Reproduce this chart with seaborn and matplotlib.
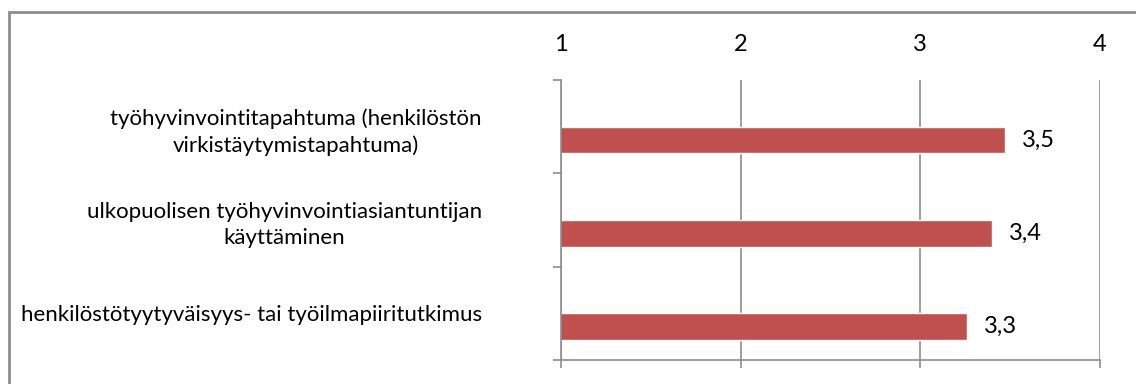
import matplotlib
matplotlib.use("Agg")
import matplotlib.pyplot as plt
from matplotlib.patches import Rectangle
import pandas as pd
import seaborn as sns

# Survey items (wrapped as they appear on the axis) and their mean scores
categories = [
    "työhyvinvointitapahtuma (henkilöstön\nvirkistäytymistapahtuma)",
    "ulkopuolisen työhyvinvointiasiantuntijan\nkäyttäminen",
    "henkilöstötyytyväisyys- tai työilmapiiritutkimus",
]
scores = [3.47, 3.40, 3.26]
x_ticks = [1, 2, 3, 4]

BAR_COLOR = "#C0504D"
GRID_COLOR = "#8C8C8C"
LABEL_SIZE = 16
NUMBER_SIZE = 17

sns.set_theme(style="white")
plt.rcParams["font.family"] = ["Lato", "DejaVu Sans"]

df = pd.DataFrame({"item": categories, "score": scores, "series": "keskiarvo"})

fig = plt.figure(figsize=(11.36, 3.84), dpi=100)
ax = fig.add_axes([561 / 1136, 1 - 360 / 384, (1100 - 561) / 1136, (360 - 80) / 384])

# An empty first series keeps the bars in the lower half of each band
sns.barplot(
    data=df, y="item", x="score", hue="series",
    hue_order=["", "keskiarvo"], order=categories,
    palette={"": BAR_COLOR, "keskiarvo": BAR_COLOR},
    width=0.572, dodge=True, orient="h", legend=False,
    saturation=1, errorbar=None, ax=ax,
)

ax.set_xlim(x_ticks[0], x_ticks[-1])
ax.set_ylim(len(categories) - 0.5, -0.5)
ax.set_xticks(x_ticks)
ax.set_xticklabels([str(t) for t in x_ticks])
ax.set_xlabel("")
ax.set_ylabel("")

# Value axis: line and ticks at the bottom, labels on top
ax.tick_params(axis="x", bottom=True, top=False, labelbottom=False, labeltop=True,
               length=6, width=1.2, color=GRID_COLOR, direction="out",
               labelsize=NUMBER_SIZE, pad=12, labelcolor="black")
ax.grid(axis="x", color=GRID_COLOR, linewidth=1.2)
ax.grid(axis="y", visible=False)

# Category axis: ticks at band boundaries
ax.set_yticks([i - 0.5 for i in range(len(categories) + 1)], minor=True)
ax.tick_params(axis="y", which="minor", left=True, length=6, width=1.2,
               color=GRID_COLOR, direction="out")
ax.tick_params(axis="y", which="major", left=False, length=0, pad=57,
               labelsize=LABEL_SIZE, labelcolor="black")
for lbl in ax.get_yticklabels():
    lbl.set_multialignment("center")
    lbl.set_linespacing(1.4)

for side in ("top", "right"):
    ax.spines[side].set_visible(False)
for side in ("left", "bottom"):
    ax.spines[side].set_color(GRID_COLOR)
    ax.spines[side].set_linewidth(1.2)

# Value labels with decimal comma
for cont in ax.containers:
    vals = cont.datavalues
    if len(vals) and not all(pd.isna(vals)):
        ax.bar_label(cont, labels=[f"{v:.1f}".replace(".", ",") for v in vals],
                     padding=12, fontsize=NUMBER_SIZE, color="black")

# Chart-area border
fig.patches.append(Rectangle((8.5 / 1136, -0.1), 1.2, 1 - 12 / 384 + 0.1,
                             transform=fig.transFigure, fill=False,
                             edgecolor=GRID_COLOR, linewidth=2.0))

fig.savefig("out.png", dpi=100, facecolor="white")
